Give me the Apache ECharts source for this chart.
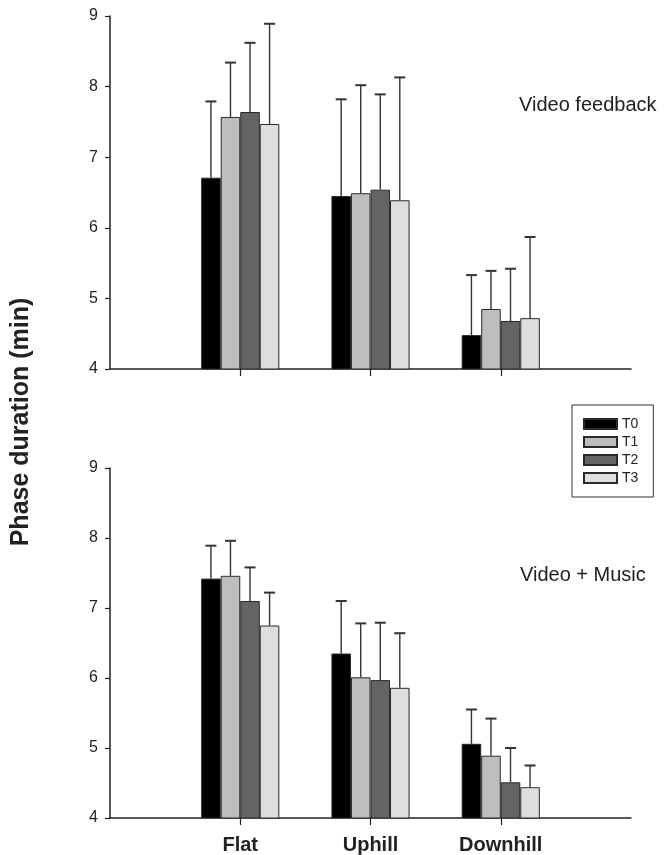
<!DOCTYPE html>
<html>
<head>
<meta charset="utf-8">
<script src="https://cdn.jsdelivr.net/npm/echarts@6/dist/echarts.min.js"></script>
<style>html,body{margin:0;padding:0;background:#fff}#c{width:665px;height:855px}</style>
</head>
<body>
<div id="c"></div>
<script>
// Axis categories (empty slots pad the axis at both ends)
const categories = ['', 'Flat', 'Uphill', 'Downhill', ''];
const seriesNames = ['T0', 'T1', 'T2', 'T3'];
const yTicks = [4, 5, 6, 7, 8, 9];

// Video feedback panel: means and top of error bar
const vfT0 = [6.71, 6.45, 4.48];
const vfT1 = [7.57, 6.49, 4.85];
const vfT2 = [7.64, 6.54, 4.68];
const vfT3 = [7.47, 6.39, 4.72];
const vfT0Up = [7.79, 7.82, 5.33];
const vfT1Up = [8.34, 8.02, 5.39];
const vfT2Up = [8.62, 7.89, 5.42];
const vfT3Up = [8.89, 8.13, 5.87];

// Video + Music panel
const vmT0 = [7.42, 6.35, 5.06];
const vmT1 = [7.46, 6.01, 4.89];
const vmT2 = [7.10, 5.97, 4.51];
const vmT3 = [6.75, 5.86, 4.44];
const vmT0Up = [7.89, 7.10, 5.55];
const vmT1Up = [7.96, 6.78, 5.42];
const vmT2Up = [7.58, 6.79, 5.00];
const vmT3Up = [7.22, 6.64, 4.75];

const colors = ['#000000', '#bdbdbd', '#646464', '#dedede'];
const BAR_FRAC = 0.15;
const FONT = '"Liberation Sans", Arial, sans-serif';

const panels = [
  {means: [vfT0, vfT1, vfT2, vfT3], ups: [vfT0Up, vfT1Up, vfT2Up, vfT3Up]},
  {means: [vmT0, vmT1, vmT2, vmT3], ups: [vmT0Up, vmT1Up, vmT2Up, vmT3Up]}
];

function padded(arr) { return ['-'].concat(arr, ['-']); }

const series = [];
panels.forEach((p, gi) => {
  p.means.forEach((m, k) => {
    series.push({
      type: 'bar', name: seriesNames[k], xAxisIndex: gi, yAxisIndex: gi,
      data: padded(m), barWidth: (BAR_FRAC * 100) + '%', barGap: '0%',
      itemStyle: {color: colors[k], borderColor: '#2a2a2a', borderWidth: 1},
      emphasis: {disabled: true}, clip: true, z: 2
    });
  });
  p.means.forEach((m, k) => {
    const data = m.map((v, i) => [i + 1, v, p.ups[k][i]]);
    series.push({
      type: 'custom', xAxisIndex: gi, yAxisIndex: gi, z: 3, silent: true,
      data: data,
      renderItem: function (params, api) {
        const idx = api.value(0);
        const band = api.size([1, 0])[0];
        const off = (k - 1.5) * band * BAR_FRAC;
        const p0 = api.coord([idx, api.value(1)]);
        const p1 = api.coord([idx, api.value(2)]);
        const x = p0[0] + off;
        const cap = 5.5;
        return {
          type: 'group',
          children: [
            {type: 'line', shape: {x1: x, y1: p0[1], x2: x, y2: p1[1]}, style: {stroke: '#333', lineWidth: 1.4}},
            {type: 'line', shape: {x1: x - cap, y1: p1[1], x2: x + cap, y2: p1[1]}, style: {stroke: '#333', lineWidth: 2}}
          ]
        };
      }
    });
  });
});

const grids = [
  {left: 110, top: 16, width: 521, height: 353},
  {left: 110, top: 468, width: 521, height: 352}
];

const xAxes = grids.map((g, gi) => ({
  type: 'category', gridIndex: gi, data: categories, boundaryGap: false,
  axisLine: {lineStyle: {color: '#222', width: 1.5}},
  axisTick: {show: true, length: 7, interval: function (i) { return i >= 1 && i <= 3; }, lineStyle: {color: '#222', width: 1.2}},
  axisLabel: {show: gi === 1, interval: 0, margin: 17, color: '#222', fontSize: 20, fontWeight: 'bold', fontFamily: FONT},
  splitLine: {show: false}
}));

const yAxes = grids.map((g, gi) => ({
  type: 'value', gridIndex: gi, min: yTicks[0], max: yTicks[yTicks.length - 1], interval: 1,
  axisLine: {show: true, lineStyle: {color: '#222', width: 1.5}},
  axisTick: {show: true, length: 5, lineStyle: {color: '#222', width: 1.2}},
  axisLabel: {color: '#222', fontSize: 16, margin: 12, fontFamily: FONT},
  splitLine: {show: false}
}));

const chart = echarts.init(document.getElementById('c'), null, {renderer: 'canvas'});
chart.setOption({
  backgroundColor: '#fff',
  animation: false,
  grid: grids,
  xAxis: xAxes,
  yAxis: yAxes,
  legend: {
    data: seriesNames, orient: 'vertical', left: 572, top: 405,
    padding: [12, 15, 12, 11], itemWidth: 33, itemHeight: 10, itemGap: 4,
    icon: 'rect', borderColor: '#333', borderWidth: 1,
    textStyle: {fontSize: 14, color: '#222', fontFamily: FONT},
    selectedMode: false
  },
  graphic: [
    {type: 'text', left: 519, top: 95, style: {text: 'Video feedback', font: '20px ' + FONT, fill: '#222'}},
    {type: 'text', left: 520, top: 565, style: {text: 'Video + Music', font: '20px ' + FONT, fill: '#222'}},
    {type: 'text', x: 21, y: 422, rotation: Math.PI / 2,
     style: {text: 'Phase duration (min)', font: 'bold 25px ' + FONT, fill: '#222', align: 'center', verticalAlign: 'middle'}}
  ],
  series: series
});
</script>
</body>
</html>
